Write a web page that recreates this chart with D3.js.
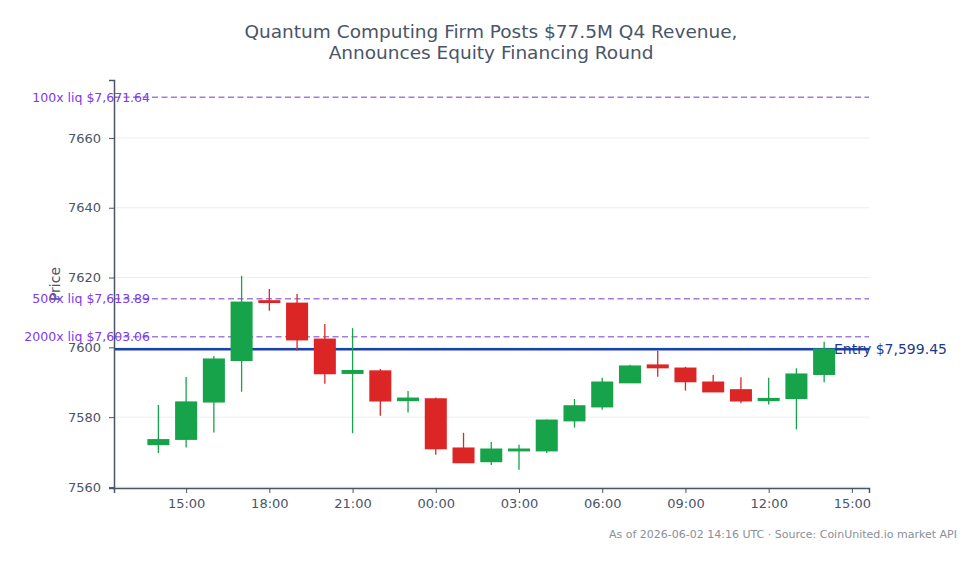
<!DOCTYPE html>
<html>
<head>
<meta charset="utf-8">
<script src="https://cdn.jsdelivr.net/npm/d3@7"></script>
<style>
  body { margin: 0; background: #fff; }
  text { font-family: "DejaVu Sans", sans-serif; }
</style>
</head>
<body>
<script>
// hourly candles, 2026-06-01 14:00 UTC to 2026-06-02 14:00 UTC
var hours = ["2026-06-01T14:00Z","2026-06-01T15:00Z","2026-06-01T16:00Z","2026-06-01T17:00Z","2026-06-01T18:00Z",
  "2026-06-01T19:00Z","2026-06-01T20:00Z","2026-06-01T21:00Z","2026-06-01T22:00Z","2026-06-01T23:00Z",
  "2026-06-02T00:00Z","2026-06-02T01:00Z","2026-06-02T02:00Z","2026-06-02T03:00Z","2026-06-02T04:00Z",
  "2026-06-02T05:00Z","2026-06-02T06:00Z","2026-06-02T07:00Z","2026-06-02T08:00Z","2026-06-02T09:00Z",
  "2026-06-02T10:00Z","2026-06-02T11:00Z","2026-06-02T12:00Z","2026-06-02T13:00Z","2026-06-02T14:00Z"];
var opens  = [7572.2, 7573.7, 7584.4, 7596.3, 7613.3, 7612.6, 7602.3, 7592.6, 7593.2, 7584.8,
              7585.2, 7571.1, 7567.3, 7570.4, 7570.4, 7579.0, 7583.0, 7589.9, 7594.9, 7594.0,
              7590.0, 7587.8, 7584.8, 7585.4, 7592.3];
var highs  = [7583.5, 7591.5, 7597.5, 7620.5, 7616.7, 7615.3, 7606.7, 7605.5, 7593.8, 7587.5,
              7585.6, 7575.5, 7572.9, 7572.1, 7579.3, 7585.2, 7591.3, 7595.0, 7599.0, 7594.4,
              7592.1, 7591.4, 7591.3, 7594.0, 7601.6];
var lows   = [7569.7, 7571.3, 7575.6, 7587.3, 7610.5, 7599.1, 7589.6, 7575.4, 7580.4, 7581.3,
              7569.2, 7566.9, 7566.3, 7564.9, 7569.7, 7577.0, 7582.1, 7589.9, 7591.6, 7587.6,
              7587.2, 7584.0, 7583.6, 7576.5, 7590.0];
var closes = [7573.5, 7584.3, 7596.6, 7612.9, 7612.9, 7602.2, 7592.5, 7593.3, 7584.7, 7585.4,
              7571.0, 7567.0, 7570.8, 7570.8, 7579.1, 7583.2, 7590.0, 7594.6, 7594.2, 7590.2,
              7587.3, 7584.7, 7585.3, 7592.3, 7599.45];

var entryPrice = 7599.45;
var liqLevels = [100, 500, 2000];
var liqPrices = [7671.64, 7613.89, 7603.06];
var yTicks = [7560, 7580, 7600, 7620, 7640, 7660];

var width = 980, height = 564;
var margin = {top: 80, right: 111, bottom: 76, left: 114};

var svg = d3.select('body').append('svg')
    .attr('width', width)
    .attr('height', height);

var x = d3.scaleUtc()
    .domain([new Date("2026-06-01T12:24Z"), new Date("2026-06-02T15:37Z")])
    .range([margin.left, width - margin.right]);

var y = d3.scaleLinear()
    .domain([7559.7, 7676.6])
    .range([height - margin.bottom, margin.top]);

var candles = hours.map(function (h, i) {
    return {t: new Date(h), o: opens[i], h: highs[i], l: lows[i], c: closes[i]};
});

// gridlines
svg.append('g')
    .selectAll('line')
    .data(yTicks)
    .enter()
    .append('line')
        .attr('x1', margin.left)
        .attr('x2', width - margin.right)
        .attr('y1', function (d) { return y(d); })
        .attr('y2', function (d) { return y(d); })
        .attr('stroke', '#eceef1')
        .attr('stroke-width', 1);

// liquidation lines
svg.append('g')
    .selectAll('line')
    .data(liqPrices)
    .enter()
    .append('line')
        .attr('x1', margin.left)
        .attr('x2', width - margin.right)
        .attr('y1', function (d) { return y(d); })
        .attr('y2', function (d) { return y(d); })
        .attr('stroke', '#a27de0')
        .attr('stroke-width', 1.5)
        .attr('stroke-dasharray', '6,3.5');

// entry line
svg.append('line')
    .attr('x1', margin.left)
    .attr('x2', width - margin.right)
    .attr('y1', y(entryPrice))
    .attr('y2', y(entryPrice))
    .attr('stroke', '#1e40af')
    .attr('stroke-width', 2.5);

// candles
var hourPx = x(new Date("2026-06-01T15:00Z")) - x(new Date("2026-06-01T14:00Z"));
var bodyW = hourPx * 0.74;
var cg = svg.append('g');
candles.forEach(function (d) {
    var col = d.c >= d.o ? '#16a34a' : '#dc2626';
    var cx = x(d.t);
    cg.append('line')
        .attr('x1', cx).attr('x2', cx)
        .attr('y1', y(d.h)).attr('y2', y(d.l))
        .attr('stroke', col)
        .attr('stroke-width', 1.3);
    var top = y(Math.max(d.o, d.c)), bot = y(Math.min(d.o, d.c));
    cg.append('rect')
        .attr('x', cx - bodyW / 2)
        .attr('y', top)
        .attr('width', bodyW)
        .attr('height', Math.max(bot - top, 0.5))
        .attr('fill', col)
        .attr('stroke', col)
        .attr('stroke-width', 1.5);
});

// axes
var yAxis = svg.append('g')
    .attr('transform', 'translate(' + margin.left + ',0)')
    .call(d3.axisLeft(y).tickValues(yTicks).tickSize(5).tickPadding(8).tickFormat(d3.format('d')));
var xAxis = svg.append('g')
    .attr('transform', 'translate(0,' + (height - margin.bottom) + ')')
    .call(d3.axisBottom(x).ticks(d3.utcHour.every(3)).tickSize(5).tickPadding(6).tickFormat(d3.utcFormat('%H:%M')));

[yAxis, xAxis].forEach(function (a) {
    a.select('.domain').attr('stroke', '#4a5568').attr('stroke-width', 1.5);
    a.selectAll('.tick line').attr('stroke', '#4a5568');
    a.selectAll('.tick text').attr('fill', '#4a5568').style('font-size', '13px')
        .style('font-family', '"DejaVu Sans", sans-serif');
});

// y title
svg.append('text')
    .attr('transform', 'translate(60,' + ((margin.top + height - margin.bottom) / 2) + ') rotate(-90)')
    .attr('text-anchor', 'middle')
    .attr('fill', '#4a5568')
    .style('font-size', '14px')
    .text('Price');

// liq labels
svg.append('g')
    .selectAll('text')
    .data(liqPrices)
    .enter()
    .append('text')
        .attr('x', 150)
        .attr('y', function (d) { return y(d); })
        .attr('dy', '0.35em')
        .attr('text-anchor', 'end')
        .attr('fill', '#7c3aed')
        .style('font-size', '12.5px')
        .text(function (d, i) { return liqLevels[i] + 'x liq $' + d3.format(',.2f')(d); });

svg.append('text')
    .attr('x', 834)
    .attr('y', y(entryPrice))
    .attr('dy', '0.35em')
    .attr('fill', '#1e3a8a')
    .style('font-size', '14px')
    .text('Entry $' + d3.format(',.2f')(entryPrice));

// title
var title = svg.append('text')
    .attr('x', 491)
    .attr('text-anchor', 'middle')
    .attr('fill', '#4a5568')
    .style('font-size', '18.5px');
title.append('tspan').attr('x', 491).attr('y', 38).text('Quantum Computing Firm Posts $77.5M Q4 Revenue,');
title.append('tspan').attr('x', 491).attr('y', 59).text('Announces Equity Financing Round');

svg.append('text')
    .attr('x', 957)
    .attr('y', 538)
    .attr('text-anchor', 'end')
    .attr('fill', '#8a8f98')
    .style('font-size', '11px')
    .text('As of 2026-06-02 14:16 UTC \u00b7 Source: CoinUnited.io market API');
</script>
</body>
</html>
